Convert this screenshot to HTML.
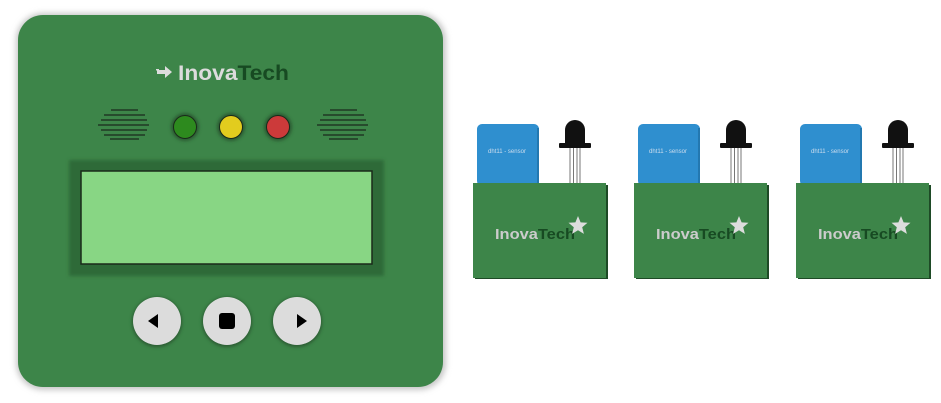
<!DOCTYPE html>
<html><head><meta charset="utf-8"><style>
html,body{margin:0;padding:0;background:#fff;width:941px;height:403px;overflow:hidden}
svg{display:block}
text{font-family:"Liberation Sans",sans-serif}
</style></head><body>
<svg width="941" height="403" viewBox="0 0 941 403">
<defs>
<filter id="sh" x="-20%" y="-20%" width="140%" height="140%"><feGaussianBlur stdDeviation="3"/></filter>
<filter id="s2" x="-50%" y="-50%" width="200%" height="200%"><feGaussianBlur stdDeviation="1.5"/></filter>
</defs>
<g>
<rect x="16" y="13" width="430" height="377" rx="27" fill="#c8c8c8" filter="url(#sh)"/>
<rect x="18" y="15" width="425" height="372" rx="25" fill="#3d8549"/>
<g>
<path d="M157 70h8v-4l7 6-7 6v-4h-8z" fill="#ddd"/>
<rect x="156" y="69" width="3" height="1.5" fill="#ddd"/>
<text x="178" y="80" font-size="21" font-weight="bold" fill="#dcdcdc" textLength="111" lengthAdjust="spacingAndGlyphs">Inova<tspan fill="#174a22">Tech</tspan></text>
</g>
<g stroke="#111" stroke-width="1">
<line x1="111" y1="110" x2="138" y2="110"/><line x1="104" y1="115" x2="145" y2="115"/><line x1="101" y1="120" x2="147" y2="120"/><line x1="98" y1="125" x2="149" y2="125"/><line x1="101" y1="130" x2="147" y2="130"/><line x1="104" y1="135" x2="145" y2="135"/><line x1="110" y1="139" x2="139" y2="139"/>
</g>
<g stroke="#111" stroke-width="1">
<line x1="330" y1="110" x2="357" y2="110"/><line x1="323" y1="115" x2="364" y2="115"/><line x1="320" y1="120" x2="366" y2="120"/><line x1="317" y1="125" x2="368" y2="125"/><line x1="320" y1="130" x2="366" y2="130"/><line x1="323" y1="135" x2="364" y2="135"/><line x1="329" y1="139" x2="358" y2="139"/>
</g>
<circle cx="185" cy="127" r="14" fill="#2a5a30" filter="url(#s2)"/>
<circle cx="185" cy="127" r="11.5" fill="#2d8a1e" stroke="#1a2a1a" stroke-width="1"/>
<circle cx="231" cy="127" r="14" fill="#2a5a30" filter="url(#s2)"/>
<circle cx="231" cy="127" r="11.5" fill="#e2cc1e" stroke="#1a2a1a" stroke-width="1"/>
<circle cx="278" cy="127" r="14" fill="#2a5a30" filter="url(#s2)"/>
<circle cx="278" cy="127" r="11.5" fill="#cc3a3a" stroke="#1a2a1a" stroke-width="1"/>
<rect x="69" y="160" width="315" height="116" fill="#2f6a39" filter="url(#s2)"/>
<rect x="81" y="171" width="291" height="93" fill="#88d684" stroke="#1a2a1a" stroke-width="1.5"/>
<g>
<circle cx="157" cy="322" r="25" fill="#2a5a30" filter="url(#s2)"/>
<circle cx="157" cy="321" r="24" fill="#dcdcdc"/>
<path d="M148 321l10-7v14z" fill="#000"/>
</g>
<g>
<circle cx="227" cy="322" r="25" fill="#2a5a30" filter="url(#s2)"/>
<circle cx="227" cy="321" r="24" fill="#dcdcdc"/>
<rect x="219" y="313" width="16" height="16" rx="3" fill="#000"/>
</g>
<g>
<circle cx="297" cy="322" r="25" fill="#2a5a30" filter="url(#s2)"/>
<circle cx="297" cy="321" r="24" fill="#dcdcdc"/>
<path d="M307 321l-10-7v14z" fill="#000"/>
</g>
</g>
<g id="m0">
<rect x="477" y="124" width="62" height="62" rx="5" fill="#2f8fcf"/>
<rect x="537" y="128" width="2" height="56" fill="#2378b0"/>
<text x="507" y="153" font-size="6" fill="#cde" text-anchor="middle">dht11 - sensor</text>
<g>
<g stroke="#777" stroke-width="1"><line x1="570" y1="148" x2="570" y2="184"/><line x1="573.5" y1="148" x2="573.5" y2="184"/><line x1="577" y1="148" x2="577" y2="184"/><line x1="580" y1="148" x2="580" y2="184"/></g>
<path d="M565 145v-15a10 10 0 0 1 20 0v15z" fill="#111"/>
<rect x="559" y="143" width="32" height="5" rx="1" fill="#111"/>
</g>
<rect x="475" y="185" width="133" height="94" fill="#1e4a26"/>
<rect x="473" y="183" width="133" height="95" fill="#3d8549"/>
<text x="495" y="239" font-size="15" font-weight="bold" fill="#ccc" textLength="80" lengthAdjust="spacingAndGlyphs">Inova<tspan fill="#174a22">Tech</tspan></text>
<path d="M578 216l2.6 6.4 6.9.4-5.3 4.4 1.7 6.7-5.9-3.7-5.9 3.7 1.7-6.7-5.3-4.4 6.9-.4z" fill="#ddd"/>
</g>
<use href="#m0" x="161"/>
<use href="#m0" x="323"/>
</svg>
</body></html>
